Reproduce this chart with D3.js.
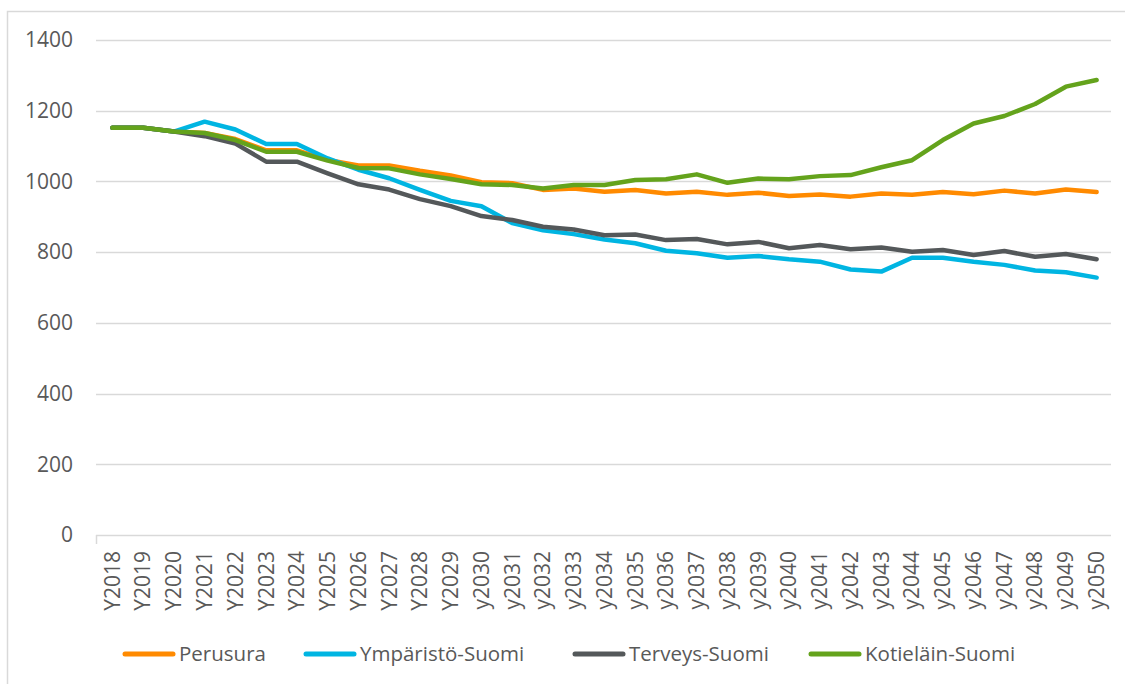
<!DOCTYPE html>
<html>
<head>
<meta charset="utf-8">
<script src="https://cdn.jsdelivr.net/npm/d3@7"></script>
<style>
  body { margin: 0; background: #fff; }
  svg { display: block; font-family: "Open Sans", "Noto Sans", sans-serif; }
</style>
</head>
<body>
<div id="chart"></div>
<script>
(function () {
    var width = 1125, height = 684;

    var years = ["Y2018","Y2019","Y2020","Y2021","Y2022","Y2023","Y2024","Y2025","Y2026","Y2027",
        "Y2028","Y2029","y2030","y2031","y2032","y2033","y2034","y2035","y2036","y2037","y2038",
        "y2039","y2040","y2041","y2042","y2043","y2044","y2045","y2046","y2047","y2048","y2049","y2050"];

    var perusura = [1152,1152,1141,1137,1120,1088,1088,1061,1045,1045,1030,1017,998,995,976,980,971,976,966,971,962,968,959,963,957,966,962,970,964,974,966,977,970];
    var ymparisto = [1152,1152,1141,1169,1147,1106,1106,1065,1033,1009,976,945,930,882,862,851,836,825,804,797,784,789,780,773,751,745,784,784,773,764,748,743,728];
    var terveys = [1152,1152,1141,1128,1107,1056,1056,1023,992,977,950,930,902,891,872,864,848,850,834,837,822,829,811,820,808,813,801,806,792,803,787,795,780];
    var kotielain = [1152,1152,1141,1137,1117,1084,1084,1059,1038,1037,1020,1007,992,990,980,990,990,1004,1006,1020,996,1008,1006,1015,1018,1040,1060,1117,1164,1185,1219,1268,1287];

    var seriesNames = ["Perusura","Ympäristö-Suomi","Terveys-Suomi","Kotieläin-Suomi"];
    var seriesColors = ["#ff8a00","#00b5e2","#54585a","#64a31c"];
    var yTicks = [0,200,400,600,800,1000,1200,1400];

    var series = [perusura, ymparisto, terveys, kotielain].map(function (vals, i) {
        return { name: seriesNames[i], color: seriesColors[i], values: vals };
    });

    var svg = d3.select("#chart").append("svg")
        .attr("width", width)
        .attr("height", height);

    // chart frame (only top/left fall inside the picture)
    svg.append("rect")
        .attr("x", 7.5).attr("y", 11.5)
        .attr("width", 1140).attr("height", 700)
        .attr("fill", "none")
        .attr("stroke", "#d9d9d9")
        .attr("stroke-width", 1.5);

    var x = d3.scalePoint().domain(years).range([97, 1112]).padding(0.5);
    var y = d3.scaleLinear().domain([0, 1400]).range([535, 40]);

    // gridlines
    svg.append("g")
        .selectAll("line")
        .data(yTicks)
        .enter().append("line")
        .attr("x1", 96).attr("x2", 1111)
        .attr("y1", function (d) { return Math.round(y(d)) + 0.5; })
        .attr("y2", function (d) { return Math.round(y(d)) + 0.5; })
        .attr("stroke", "#d9d9d9")
        .attr("stroke-width", 1.5);

    svg.append("line")
        .attr("x1", 96.5).attr("x2", 96.5)
        .attr("y1", y(0)).attr("y2", y(0) + 9)
        .attr("stroke", "#d9d9d9").attr("stroke-width", 1.5);

    // y tick labels
    svg.append("g")
        .selectAll("text")
        .data(yTicks)
        .enter().append("text")
        .attr("x", 73)
        .attr("y", function (d) { return y(d); })
        .attr("dy", "0.35em")
        .attr("text-anchor", "end")
        .attr("fill", "#595959")
        .style("font-size", "21px")
        .text(function (d) { return d; });

    // x tick labels, rotated
    svg.append("g")
        .selectAll("text")
        .data(years)
        .enter().append("text")
        .attr("transform", function (d) { return "translate(" + x(d) + ",551) rotate(-90)"; })
        .attr("dy", "0.35em")
        .attr("text-anchor", "end")
        .attr("fill", "#595959")
        .style("font-size", "21px")
        .text(function (d) { return d; });

    var line = d3.line()
        .x(function (d, i) { return x(years[i]); })
        .y(function (d) { return y(d); });

    svg.append("g")
        .selectAll("path")
        .data(series)
        .enter().append("path")
        .attr("d", function (d) { return line(d.values); })
        .attr("fill", "none")
        .attr("stroke", function (d) { return d.color; })
        .attr("stroke-width", 4.5)
        .attr("stroke-linejoin", "round")
        .attr("stroke-linecap", "round");

    // legend
    var legendX = [123, 304, 573, 809];
    var legend = svg.append("g")
        .selectAll("g")
        .data(series)
        .enter().append("g")
        .attr("transform", function (d, i) { return "translate(" + legendX[i] + ",654)"; });

    legend.append("line")
        .attr("x1", 2).attr("x2", 50)
        .attr("stroke", function (d) { return d.color; })
        .attr("stroke-width", 5)
        .attr("stroke-linecap", "round");

    legend.append("text")
        .attr("x", 56)
        .attr("dy", "0.35em")
        .attr("fill", "#595959")
        .style("font-size", "20.5px")
        .text(function (d) { return d.name; });
})();
</script>
</body>
</html>
